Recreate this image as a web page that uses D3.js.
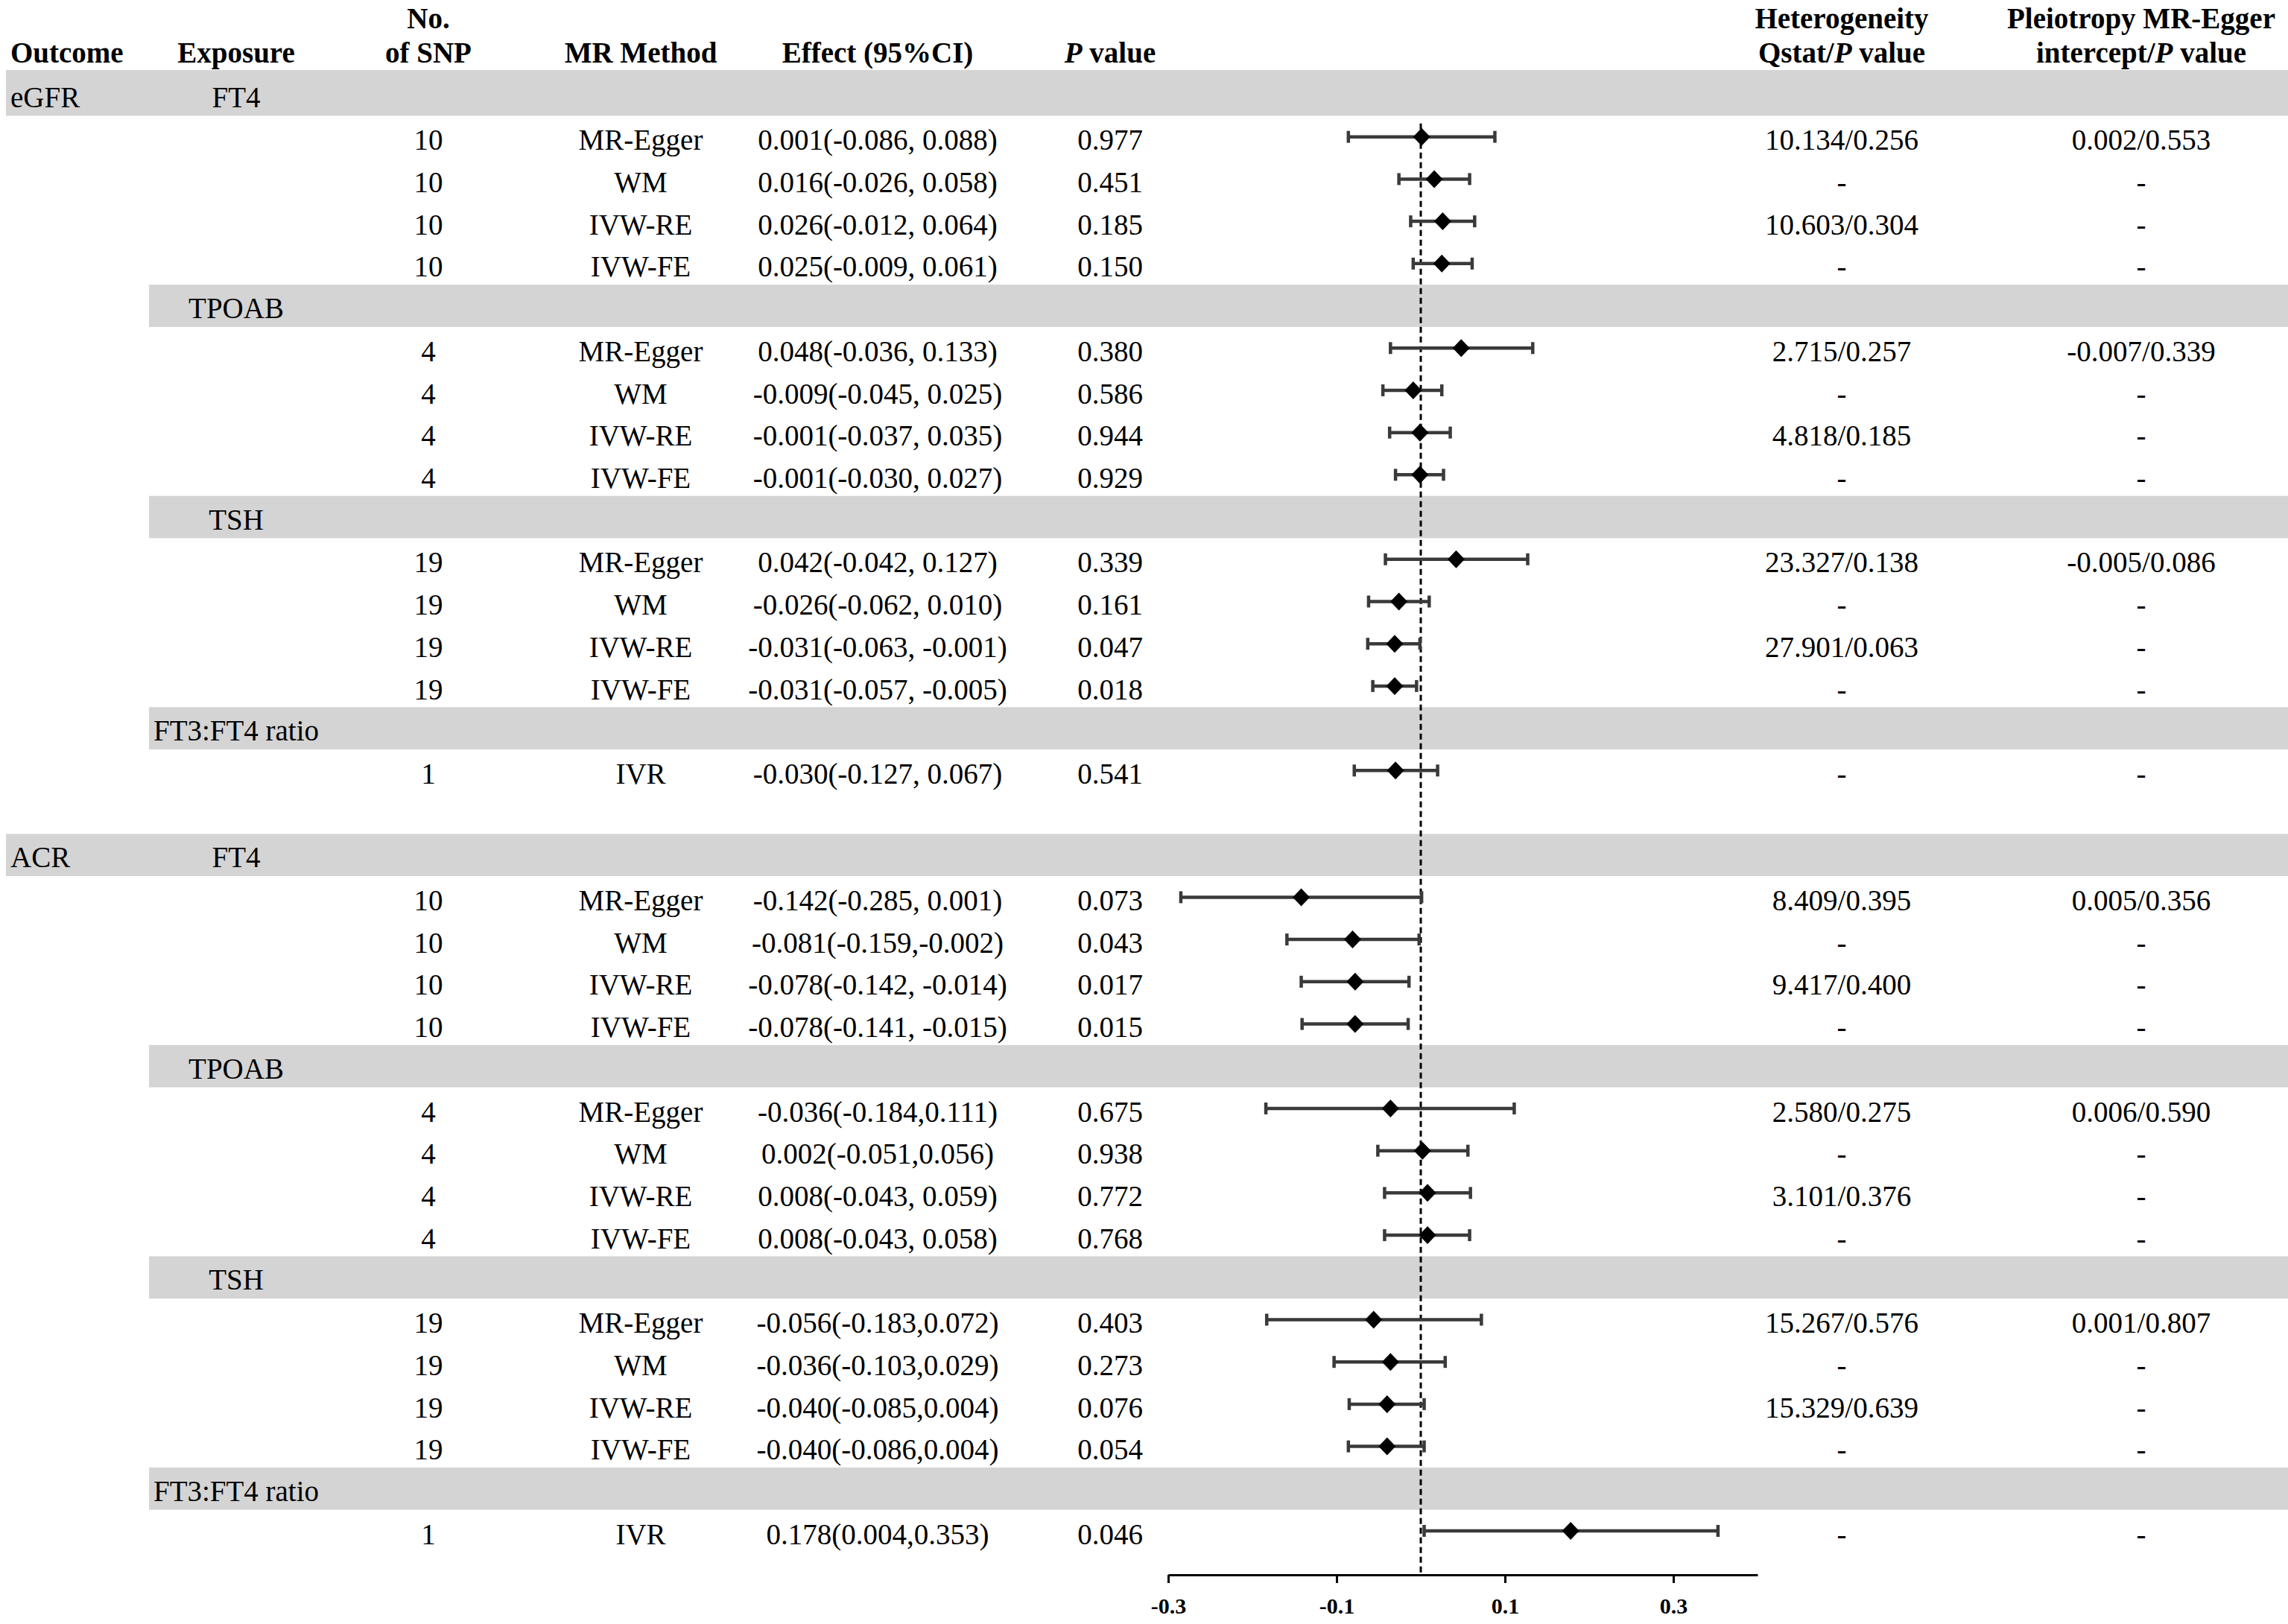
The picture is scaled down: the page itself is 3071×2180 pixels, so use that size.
<!DOCTYPE html>
<html>
<head>
<meta charset="utf-8">
<script src="https://cdn.jsdelivr.net/npm/d3@7"></script>
<style>
  body { margin: 0; background: #fff; }
  text { font-family: "Liberation Serif", serif; fill: #000; }
</style>
</head>
<body>
<script>
// groups of results: one gray band per outcome/exposure pair
const groupOutcome = ["eGFR", "", "", "", "ACR", "", "", ""];
const groupExposure = ["FT4", "TPOAB", "TSH", "FT3:FT4 ratio", "FT4", "TPOAB", "TSH", "FT3:FT4 ratio"];
const groupSize = [4, 4, 4, 1, 4, 4, 4, 1];

// one entry per result row
const snpCount = [10, 10, 10, 10, 4, 4, 4, 4, 19, 19, 19, 19, 1,
  10, 10, 10, 10, 4, 4, 4, 4, 19, 19, 19, 19, 1];
const method = ["MR-Egger", "WM", "IVW-RE", "IVW-FE", "MR-Egger", "WM", "IVW-RE", "IVW-FE",
  "MR-Egger", "WM", "IVW-RE", "IVW-FE", "IVR",
  "MR-Egger", "WM", "IVW-RE", "IVW-FE", "MR-Egger", "WM", "IVW-RE", "IVW-FE",
  "MR-Egger", "WM", "IVW-RE", "IVW-FE", "IVR"];
// plotted estimate and interval, as drawn in the figure
const estimate = [0.001, 0.016, 0.026, 0.025, 0.048, -0.009, -0.001, -0.001, 0.042, -0.026, -0.031, -0.031, -0.030,
  -0.142, -0.081, -0.078, -0.078, -0.036, 0.002, 0.008, 0.008, -0.056, -0.036, -0.040, -0.040, 0.178];
const lower = [-0.086, -0.026, -0.012, -0.009, -0.036, -0.045, -0.037, -0.030, -0.042, -0.062, -0.063, -0.057, -0.079,
  -0.285, -0.159, -0.142, -0.141, -0.184, -0.051, -0.043, -0.043, -0.183, -0.103, -0.085, -0.086, 0.004];
const upper = [0.088, 0.058, 0.064, 0.061, 0.133, 0.025, 0.035, 0.027, 0.127, 0.010, -0.001, -0.005, 0.020,
  0.001, -0.002, -0.014, -0.015, 0.111, 0.056, 0.059, 0.058, 0.072, 0.029, 0.004, 0.004, 0.353];
const effectText = [
  "0.001(-0.086, 0.088)", "0.016(-0.026, 0.058)", "0.026(-0.012, 0.064)", "0.025(-0.009, 0.061)",
  "0.048(-0.036, 0.133)", "-0.009(-0.045, 0.025)", "-0.001(-0.037, 0.035)", "-0.001(-0.030, 0.027)",
  "0.042(-0.042, 0.127)", "-0.026(-0.062, 0.010)", "-0.031(-0.063, -0.001)", "-0.031(-0.057, -0.005)",
  "-0.030(-0.127, 0.067)",
  "-0.142(-0.285, 0.001)", "-0.081(-0.159,-0.002)", "-0.078(-0.142, -0.014)", "-0.078(-0.141, -0.015)",
  "-0.036(-0.184,0.111)", "0.002(-0.051,0.056)", "0.008(-0.043, 0.059)", "0.008(-0.043, 0.058)",
  "-0.056(-0.183,0.072)", "-0.036(-0.103,0.029)", "-0.040(-0.085,0.004)", "-0.040(-0.086,0.004)",
  "0.178(0.004,0.353)"];
const pValue = ["0.977", "0.451", "0.185", "0.150", "0.380", "0.586", "0.944", "0.929",
  "0.339", "0.161", "0.047", "0.018", "0.541",
  "0.073", "0.043", "0.017", "0.015", "0.675", "0.938", "0.772", "0.768",
  "0.403", "0.273", "0.076", "0.054", "0.046"];
const heterogeneity = ["10.134/0.256", "-", "10.603/0.304", "-", "2.715/0.257", "-", "4.818/0.185", "-",
  "23.327/0.138", "-", "27.901/0.063", "-", "-",
  "8.409/0.395", "-", "9.417/0.400", "-", "2.580/0.275", "-", "3.101/0.376", "-",
  "15.267/0.576", "-", "15.329/0.639", "-", "-"];
const pleiotropy = ["0.002/0.553", "-", "-", "-", "-0.007/0.339", "-", "-", "-",
  "-0.005/0.086", "-", "-", "-", "-",
  "0.005/0.356", "-", "-", "-", "0.006/0.590", "-", "-", "-",
  "0.001/0.807", "-", "-", "-", "-"];
const tickValues = [-0.3, -0.1, 0.1, 0.3];

const width = 3071;
const height = 2180;
const fontSize = 39;

// build the row list: band row, result rows, blank row between outcomes
const rows = [];
let k = 0;
groupExposure.forEach((exposure, g) => {
  if (g > 0 && groupOutcome[g]) {
    rows.push({ type: "blank" });
  }
  rows.push({ type: "band", outcome: groupOutcome[g], exposure: exposure });
  for (let j = 0; j < groupSize[g]; j++) {
    rows.push({ type: "result", i: k });
    k++;
  }
});

const y = d3.scaleLinear()
    .domain([0, rows.length - 1])
    .range([127, 2055]);
const rowH = y(1) - y(0);

const x = d3.scaleLinear()
    .domain([-0.3, 0.4])
    .range([1568, 2359]);

const col = {
  outcome: 14,
  exposure: 317,
  snp: 575,
  method: 860,
  effect: 1178,
  p: 1490,
  het: 2472,
  pleio: 2874,
};

const svg = d3.select("body")
    .append("svg")
    .attr("xmlns", "http://www.w3.org/2000/svg")
    .attr("width", width)
    .attr("height", height)
    .attr("viewBox", [0, 0, width, height].join(" "));

svg.append("rect")
    .attr("width", width)
    .attr("height", height)
    .attr("fill", "#fff");

// gray bands
rows.forEach((row, r) => {
  if (row.type !== "band") {
    return;
  }
  const top = r === 0 ? 94 : y(r) - rowH / 2;
  const left = row.outcome ? 8 : 200;
  svg.append("rect")
      .attr("x", left)
      .attr("y", top)
      .attr("width", width - left)
      .attr("height", y(r) + rowH / 2 - top)
      .attr("fill", "#d4d4d4");
  if (row.outcome) {
    svg.append("text")
        .attr("x", col.outcome)
        .attr("y", y(r) + 3)
        .attr("dy", "0.35em")
        .attr("font-size", fontSize)
        .text(row.outcome);
  }
  svg.append("text")
      .attr("x", col.exposure)
      .attr("y", y(r) + 3)
      .attr("dy", "0.35em")
      .attr("text-anchor", "middle")
      .attr("font-size", fontSize)
      .text(row.exposure);
});

// header
const header = svg.append("g")
    .attr("font-weight", "bold")
    .attr("font-size", fontSize);

const headerText = (cx, cy, parts, anchor = "middle") => {
  const t = header.append("text")
      .attr("x", cx)
      .attr("y", cy)
      .attr("dy", "0.35em")
      .attr("text-anchor", anchor);
  parts.forEach((p) => {
    t.append("tspan")
        .attr("font-style", p.italic ? "italic" : "normal")
        .text(p.text);
  });
};

headerText(col.outcome, 70, [{ text: "Outcome" }], "start");
headerText(col.exposure, 70, [{ text: "Exposure" }]);
headerText(col.snp, 24, [{ text: "No." }]);
headerText(col.snp, 70, [{ text: "of SNP" }]);
headerText(col.method, 70, [{ text: "MR Method" }]);
headerText(col.effect, 70, [{ text: "Effect (95%CI)" }]);
headerText(col.p, 70, [{ text: "P", italic: true }, { text: " value" }]);
headerText(col.het, 24, [{ text: "Heterogeneity" }]);
headerText(col.het, 70, [{ text: "Qstat/" }, { text: "P", italic: true }, { text: " value" }]);
headerText(col.pleio, 24, [{ text: "Pleiotropy MR-Egger" }]);
headerText(col.pleio, 70, [{ text: "intercept/" }, { text: "P", italic: true }, { text: " value" }]);

// reference line at zero
svg.append("line")
    .attr("x1", x(0))
    .attr("x2", x(0))
    .attr("y1", y(1) - 18)
    .attr("y2", 2114)
    .attr("stroke", "#000")
    .attr("stroke-width", 3)
    .attr("stroke-dasharray", "8,5");

// result rows
const results = rows
    .map((row, r) => ({ ...row, r }))
    .filter((row) => row.type === "result");

const cells = [
  [col.snp, (i) => snpCount[i]],
  [col.method, (i) => method[i]],
  [col.effect, (i) => effectText[i]],
  [col.p, (i) => pValue[i]],
  [col.het, (i) => heterogeneity[i]],
  [col.pleio, (i) => pleiotropy[i]],
];

cells.forEach(([cx, value]) => {
  svg.append("g")
      .selectAll("text")
      .data(results)
      .join("text")
      .attr("x", cx)
      .attr("y", (d) => y(d.r) + 4)
      .attr("dy", "0.35em")
      .attr("text-anchor", "middle")
      .attr("font-size", fontSize)
      .text((d) => value(d.i));
});

const ci = svg.append("g")
    .attr("stroke", "#3a3a3a")
    .attr("stroke-width", 4.5);

ci.selectAll(".whisker")
    .data(results)
    .join("line")
    .attr("class", "whisker")
    .attr("x1", (d) => x(lower[d.i]))
    .attr("x2", (d) => x(upper[d.i]))
    .attr("y1", (d) => y(d.r))
    .attr("y2", (d) => y(d.r));

ci.selectAll(".capL")
    .data(results)
    .join("line")
    .attr("class", "capL")
    .attr("x1", (d) => x(lower[d.i]))
    .attr("x2", (d) => x(lower[d.i]))
    .attr("y1", (d) => y(d.r) - 8)
    .attr("y2", (d) => y(d.r) + 8);

ci.selectAll(".capR")
    .data(results)
    .join("line")
    .attr("class", "capR")
    .attr("x1", (d) => x(upper[d.i]))
    .attr("x2", (d) => x(upper[d.i]))
    .attr("y1", (d) => y(d.r) - 8)
    .attr("y2", (d) => y(d.r) + 8);

svg.append("g")
    .selectAll("path")
    .data(results)
    .join("path")
    .attr("transform", (d) => `translate(${x(estimate[d.i])},${y(d.r)})`)
    .attr("d", "M0,-12L11.5,0L0,12L-11.5,0Z")
    .attr("fill", "#000");

// axis
const axis = svg.append("g")
    .attr("transform", "translate(0,2114)")
    .call(d3.axisBottom(x)
        .tickValues(tickValues)
        .tickFormat((d) => d.toFixed(1))
        .tickSize(11)
        .tickSizeOuter(0));

axis.select(".domain")
    .attr("stroke", "#000")
    .attr("stroke-width", 3);

axis.selectAll(".tick line")
    .attr("stroke", "#000")
    .attr("stroke-width", 3);

axis.selectAll(".tick text")
    .attr("y", 41)
    .attr("dy", "0.35em")
    .attr("font-family", "Liberation Serif")
    .attr("font-weight", "bold")
    .attr("font-size", 30)
    .attr("fill", "#000");
</script>
</body>
</html>
